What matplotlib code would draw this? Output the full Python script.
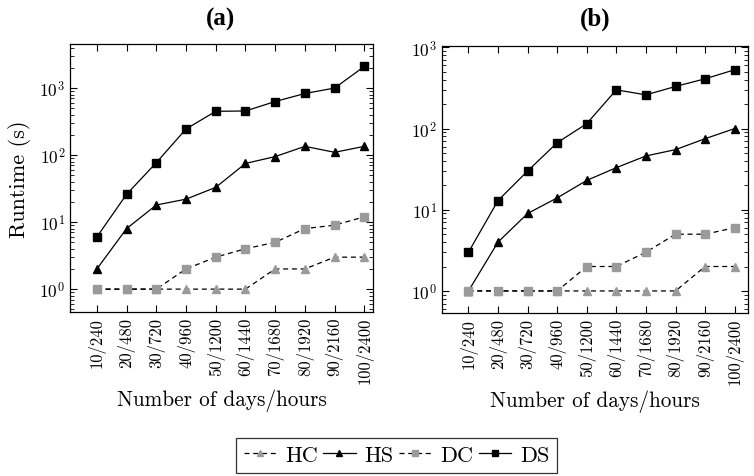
import matplotlib.pyplot as plt
from matplotlib.ticker import LogLocator, NullFormatter

plt.rcParams['font.family'] = 'cmr10'
plt.rcParams['mathtext.fontset'] = 'cm'
plt.rcParams['axes.formatter.use_mathtext'] = True

# data
labels = ['10/240', '20/480', '30/720', '40/960', '50/1200', '60/1440',
          '70/1680', '80/1920', '90/2160', '100/2400']

hc_a = [1, 1, 1, 1, 1, 1, 2, 2, 3, 3]
hs_a = [2, 8, 18, 22, 33, 75, 95, 135, 110, 135]
dc_a = [1, 1, 1, 2, 3, 4, 5, 8, 9, 12]
ds_a = [6, 26, 77, 245, 450, 455, 630, 830, 1000, 2100]

hc_b = [1, 1, 1, 1, 1, 1, 1, 1, 2, 2]
hs_b = [1, 4, 9, 14, 23, 33, 46, 55, 75, 100]
dc_b = [1, 1, 1, 1, 2, 2, 3, 5, 5, 6]
ds_b = [3, 13, 30, 67, 115, 300, 260, 330, 410, 530]

gray = '#9a9a9a'
x = list(range(len(labels)))

fig = plt.figure(figsize=(7.54, 4.77), dpi=100)
ax1 = fig.add_axes([0.093, 0.344, 0.402, 0.562])
ax2 = fig.add_axes([0.586, 0.342, 0.406, 0.560])


def draw(ax, hc, hs, dc, ds, ylim, xlim):
    ax.plot(x, hc, color='black', lw=0.9, ls=(0, (4, 3)), marker='^', ms=5.5,
            mfc=gray, mec=gray, label='HC')
    ax.plot(x, hs, color='black', lw=0.9, marker='^', ms=5.5,
            mfc='black', mec='black', label='HS')
    ax.plot(x, dc, color='black', lw=0.9, ls=(0, (4, 3)), marker='s', ms=6,
            mfc=gray, mec=gray, label='DC')
    ax.plot(x, ds, color='black', lw=0.9, marker='s', ms=6,
            mfc='black', mec='black', label='DS')
    ax.set_yscale('log')
    ax.set_ylim(*ylim)
    ax.set_xlim(*xlim)
    ax.set_xticks(x)
    ax.set_xticklabels(labels, rotation=90)
    ax.yaxis.set_major_locator(LogLocator(base=10, numticks=10))
    ax.yaxis.set_minor_locator(LogLocator(base=10, subs=range(2, 10), numticks=10))
    ax.yaxis.set_minor_formatter(NullFormatter())
    ax.tick_params(axis='both', which='both', direction='in', top=True, right=True)
    ax.tick_params(axis='both', which='major', length=5, width=0.8, labelsize=12.5)
    ax.tick_params(axis='y', which='minor', length=3, width=0.6)
    ax.tick_params(axis='x', labelsize=12)
    for s in ax.spines.values():
        s.set_linewidth(0.9)
    ax.set_xlabel('Number of days/hours', fontsize=15.3, labelpad=4)


draw(ax1, hc_a, hs_a, dc_a, ds_a, (10 ** -0.34, 10 ** 3.66), (-0.9, 9.3))
draw(ax2, hc_b, hs_b, dc_b, ds_b, (10 ** -0.27, 10 ** 3.02), (-0.9, 9.45))
ax1.set_ylabel('Runtime (s)', fontsize=16, labelpad=6)

fig.text(0.293, 0.935, '(a)', ha='center', va='bottom', fontsize=18,
         fontweight='bold', family='Liberation Serif')
fig.text(0.789, 0.935, '(b)', ha='center', va='bottom', fontsize=18,
         fontweight='bold', family='Liberation Serif')

handles, names = ax1.get_legend_handles_labels()
leg = fig.legend(handles, names, loc='center', bbox_to_anchor=(0.526, 0.043), ncol=4,
                 fontsize=16, frameon=True, fancybox=False, edgecolor='black',
                 handlelength=1.45, handletextpad=0.4, columnspacing=0.25,
                 borderpad=0.35, markerscale=0.75)
leg.get_frame().set_linewidth(0.9)

fig.savefig('out.png', dpi=100)
